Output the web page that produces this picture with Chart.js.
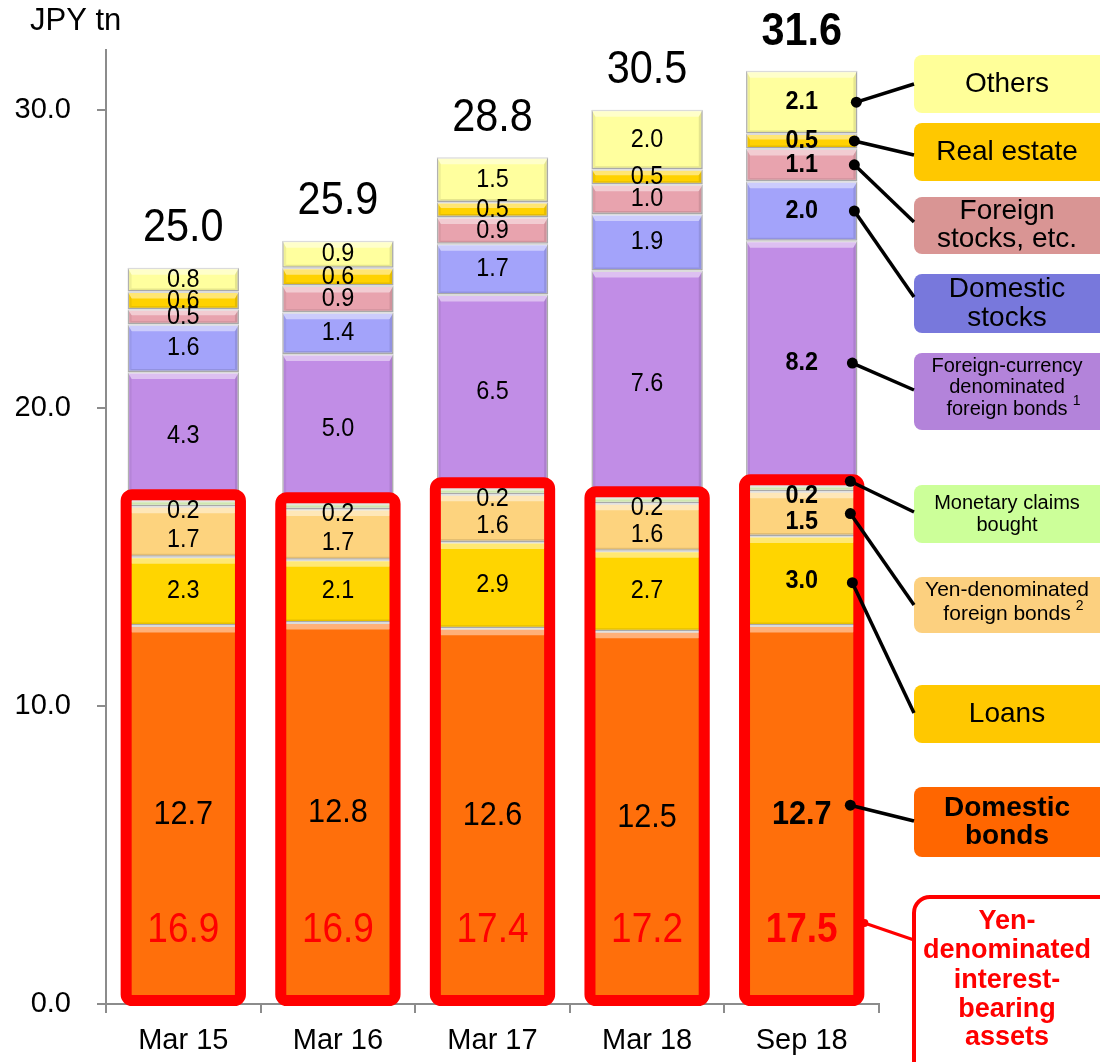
<!DOCTYPE html>
<html>
<head>
<meta charset="utf-8">
<script src="https://cdn.jsdelivr.net/npm/chart.js@4.4.1/dist/chart.umd.min.js"></script>
<style>
  html, body { margin: 0; padding: 0; background: #ffffff; }
  canvas { display: block; }
</style>
</head>
<body>
<canvas id="chart" width="1100" height="1062"></canvas>
<script>
// Asset portfolio by category, JPY trillion
const categories         = ['Mar 15', 'Mar 16', 'Mar 17', 'Mar 18', 'Sep 18'];
const domesticBonds      = [12.7, 12.8, 12.6, 12.5, 12.7];
const loans              = [2.3, 2.1, 2.9, 2.7, 3.0];
const yenForeignBonds    = [1.7, 1.7, 1.6, 1.6, 1.5];
const monetaryClaims     = [0.2, 0.2, 0.2, 0.2, 0.2];
const fxForeignBonds     = [4.3, 5.0, 6.5, 7.6, 8.2];
const domesticStocks     = [1.6, 1.4, 1.7, 1.9, 2.0];
const foreignStocks      = [0.5, 0.9, 0.9, 1.0, 1.1];
const realEstate         = [0.6, 0.6, 0.5, 0.5, 0.5];
const others             = [0.8, 0.9, 1.5, 2.0, 2.1];
const totals             = [25.0, 25.9, 28.8, 30.5, 31.6];
const yenInterestBearing = [16.9, 16.9, 17.4, 17.2, 17.5];
const yTickValues        = [0, 10, 20, 30];

const FONT = '"Liberation Sans", Arial, Helvetica, sans-serif';

// stacking order, bottom to top
const stackSeries = [
  { label: 'Domestic bonds',  data: domesticBonds,   color: '#FF6F0B', labelSize: 34, labelShift: 0 },
  { label: 'Loans',           data: loans,           color: '#FFD500', labelSize: 26, labelShift: 0 },
  { label: 'Yen-denominated foreign bonds', data: yenForeignBonds, color: '#FDD37E', labelSize: 26, labelShift: 8 },
  { label: 'Monetary claims bought', data: monetaryClaims, color: '#CFE6B0', labelSize: 26, labelShift: 8 },
  { label: 'Foreign-currency denominated foreign bonds', data: fxForeignBonds, color: '#C18DE6', labelSize: 26, labelShift: 0 },
  { label: 'Domestic stocks', data: domesticStocks,  color: '#A3A3FA', labelSize: 26, labelShift: 0 },
  { label: 'Foreign stocks, etc.', data: foreignStocks, color: '#E8A3AE', labelSize: 26, labelShift: 0 },
  { label: 'Real estate',     data: realEstate,      color: '#FFD200', labelSize: 26, labelShift: 0 },
  { label: 'Others',          data: others,          color: '#FFFF9E', labelSize: 26, labelShift: 0 }
];

// call-out boxes on the right, tied to series of the last bar
const callouts = [
  { series: 8, fill: '#FFFF99', top: 55,  bottom: 113, lines: ['Others'], ys: [84], size: 28, endY: 84, dx: -1 },
  { series: 7, fill: '#FFC800', top: 123, bottom: 181, lines: ['Real estate'], ys: [152], size: 28, endY: 155, dx: -3 },
  { series: 6, fill: '#D99594', top: 197, bottom: 254, lines: ['Foreign', 'stocks, etc.'], ys: [211, 239], size: 28, endY: 222, dx: -3 },
  { series: 5, fill: '#7878DC', top: 274, bottom: 333, lines: ['Domestic', 'stocks'], ys: [289, 318], size: 28, endY: 297, dx: -3 },
  { series: 4, fill: '#B383DA', top: 353, bottom: 430, lines: ['Foreign-currency', 'denominated', 'foreign bonds'], ys: [366, 387, 409], size: 20, endY: 390, dx: -5, sup: '1' },
  { series: 3, fill: '#CCFF99', top: 485, bottom: 543, lines: ['Monetary claims', 'bought'], ys: [503, 525], size: 20, endY: 512, dx: -7, dotShift: -7 },
  { series: 2, fill: '#FCD07F', top: 577, bottom: 633, lines: ['Yen-denominated', 'foreign bonds'], ys: [590, 614], size: 21, endY: 605, dx: -7, sup: '2' },
  { series: 1, fill: '#FFC800', top: 685, bottom: 743, lines: ['Loans'], ys: [714], size: 28, endY: 713, dx: -5, dotShift: 2 },
  { series: 0, fill: '#FF6600', top: 787, bottom: 857, lines: ['Domestic', 'bonds'], ys: [808, 836], size: 28, bold: true, endY: 821, dx: -7, dotShift: -9 }
];

function textScaled(ctx, str, x, y, font, color, sx, align) {
  ctx.save();
  ctx.font = font;
  ctx.fillStyle = color;
  ctx.textAlign = align || 'center';
  ctx.textBaseline = 'middle';
  ctx.translate(x, y);
  ctx.scale(sx, 1);
  ctx.fillText(str, 0, 0);
  ctx.restore();
}

function poly(ctx, pts, fill) {
  ctx.beginPath();
  ctx.moveTo(pts[0][0], pts[0][1]);
  for (let i = 1; i < pts.length; i++) ctx.lineTo(pts[i][0], pts[i][1]);
  ctx.closePath();
  ctx.fillStyle = fill;
  ctx.fill();
}

// bevelled look for each bar segment
const bevelPlugin = {
  id: 'bevel',
  afterDatasetsDraw(chart) {
    const ctx = chart.ctx;
    chart.data.datasets.forEach((ds, i) => {
      chart.getDatasetMeta(i).data.forEach(el => {
        const l = el.x - el.width / 2, r = el.x + el.width / 2;
        const t = Math.min(el.y, el.base), b = Math.max(el.y, el.base);
        const h = b - t;
        const d = Math.min(7, h * 0.4);
        const e = Math.min(3, h * 0.2);
        const s = 4;
        poly(ctx, [[l, t], [r, t], [r - s, t + d], [l + s, t + d]], 'rgba(255,255,255,0.45)');
        poly(ctx, [[l, b], [r, b], [r - s, b - e], [l + s, b - e]], 'rgba(0,0,0,0.10)');
        poly(ctx, [[l, t], [l + s, t + d], [l + s, b - e], [l, b]], 'rgba(0,0,0,0.06)');
        poly(ctx, [[r, t], [r - s, t + d], [r - s, b - e], [r, b]], 'rgba(0,0,0,0.10)');
      });
    });
  }
};

// red frames, value labels, totals, call-outs and unit caption
const annotatePlugin = {
  id: 'annotate',
  afterDatasetsDraw(chart) {
    const ctx = chart.ctx;
    const yScale = chart.scales.y;
    const base = yScale.getPixelForValue(0);
    const metas = chart.data.datasets.map((_, i) => chart.getDatasetMeta(i));
    const last = categories.length - 1;

    // red frames around the yen-denominated interest-bearing segments
    categories.forEach((_, j) => {
      const el = metas[0].data[j];
      const l = el.x - el.width / 2, r = el.x + el.width / 2;
      const topEl = metas[3].data[j];
      const top = Math.min(topEl.y, topEl.base);
      ctx.save();
      ctx.strokeStyle = '#FF0000';
      ctx.lineWidth = 11;
      ctx.beginPath();
      ctx.roundRect(l - 1.5, top - 5.5, (r - l) + 3, (base - 3.5) - (top - 5.5), 6);
      ctx.stroke();
      ctx.restore();
    });

    // segment values
    metas.forEach((meta, i) => {
      const cfg = stackSeries[i];
      meta.data.forEach((el, j) => {
        const v = chart.data.datasets[i].data[j];
        const mid = (el.y + el.base) / 2 + cfg.labelShift;
        const bold = j === last ? 'bold ' : '';
        textScaled(ctx, v.toFixed(1), el.x, mid, bold + cfg.labelSize + 'px ' + FONT, '#000', 0.9);
      });
    });

    // yen-denominated interest-bearing totals
    categories.forEach((_, j) => {
      const el = metas[0].data[j];
      const bold = j === last ? 'bold ' : '';
      textScaled(ctx, yenInterestBearing[j].toFixed(1), el.x, base - 74, bold + '43px ' + FONT, '#FF0000', 0.86);
    });

    // totals above each stack
    categories.forEach((_, j) => {
      const el = metas[metas.length - 1].data[j];
      const top = Math.min(el.y, el.base);
      const bold = j === last ? 'bold ' : '';
      textScaled(ctx, totals[j].toFixed(1), el.x, top - 39, bold + '46px ' + FONT, '#000', 0.9);
    });

    // call-out boxes
    const boxL = 914;
    callouts.forEach(c => {
      ctx.save();
      ctx.fillStyle = c.fill;
      ctx.beginPath();
      ctx.roundRect(boxL, c.top, 220, c.bottom - c.top, 8);
      ctx.fill();
      ctx.restore();
      const font = (c.bold ? 'bold ' : '') + c.size + 'px ' + FONT;
      c.lines.forEach((ln, k) => {
        textScaled(ctx, ln, 1007, c.ys[k], font, '#000', 1);
      });
      if (c.sup) {
        ctx.save();
        ctx.font = font;
        const w = ctx.measureText(c.lines[c.lines.length - 1]).width;
        ctx.restore();
        textScaled(ctx, c.sup, 1007 + w / 2 + 9, c.ys[c.lines.length - 1] - 8, '14px ' + FONT, '#000', 1);
      }
      // connector
      const el = metas[c.series].data[last];
      const right = el.x + el.width / 2;
      const dotX = right + c.dx;
      const dotY = (el.y + el.base) / 2 + (c.dotShift || 0);
      ctx.save();
      ctx.strokeStyle = '#000';
      ctx.lineWidth = 3.5;
      ctx.beginPath();
      ctx.moveTo(dotX, dotY);
      ctx.lineTo(boxL, c.endY);
      ctx.stroke();
      ctx.fillStyle = '#000';
      ctx.beginPath();
      ctx.arc(dotX, dotY, 5.5, 0, Math.PI * 2);
      ctx.fill();
      ctx.restore();
    });

    // red call-out for the yen-denominated interest-bearing assets
    {
      const el = metas[0].data[last];
      const right = el.x + el.width / 2 + 7;
      const dotY = base - 81;
      ctx.save();
      ctx.strokeStyle = '#FF0000';
      ctx.lineWidth = 3;
      ctx.beginPath();
      ctx.moveTo(right, dotY);
      ctx.lineTo(boxL, 940);
      ctx.stroke();
      ctx.fillStyle = '#FF0000';
      ctx.beginPath();
      ctx.arc(right, dotY, 4, 0, Math.PI * 2);
      ctx.fill();
      ctx.fillStyle = '#FFFFFF';
      ctx.lineWidth = 4;
      ctx.beginPath();
      ctx.roundRect(boxL, 897, 220, 200, 16);
      ctx.fill();
      ctx.stroke();
      ctx.restore();
      const lines = ['Yen-', 'denominated', 'interest-', 'bearing', 'assets'];
      const ys = [922, 951, 981, 1010, 1038];
      lines.forEach((ln, k) => textScaled(ctx, ln, 1007, ys[k], 'bold 27px ' + FONT, '#FF0000', 1));
    }

    // unit caption
    ctx.save();
    ctx.font = '31px ' + FONT;
    ctx.fillStyle = '#000';
    ctx.textAlign = 'left';
    ctx.textBaseline = 'alphabetic';
    ctx.fillText('JPY tn', 30, 30);
    ctx.restore();
  }
};

const axisGrey = '#8C8C8C';

new Chart(document.getElementById('chart'), {
  type: 'bar',
  data: {
    labels: categories,
    datasets: stackSeries.map(s => ({
      label: s.label,
      data: s.data,
      backgroundColor: s.color,
      borderColor: '#BDBDBD',
      borderWidth: 1.5,
      borderSkipped: false,
      categoryPercentage: 1.0,
      barPercentage: 0.72
    }))
  },
  options: {
    responsive: false,
    animation: false,
    devicePixelRatio: 1,
    layout: { padding: { top: 50, right: 221, left: 0, bottom: 0 } },
    plugins: {
      legend: { display: false },
      tooltip: { enabled: false }
    },
    scales: {
      x: {
        stacked: true,
        grid: { drawOnChartArea: false, drawTicks: true, tickLength: 9, color: axisGrey, lineWidth: 2 },
        border: { display: true, color: axisGrey, width: 2 },
        ticks: { font: { family: FONT, size: 29 }, color: '#000', padding: 11 },
        afterFit(scale) { scale.height = 58; }
      },
      y: {
        stacked: true,
        min: 0,
        max: 32,
        afterBuildTicks(scale) { scale.ticks = yTickValues.map(v => ({ value: v })); },
        grid: { drawOnChartArea: false, drawTicks: true, tickLength: 9, color: axisGrey, lineWidth: 2 },
        border: { display: true, color: axisGrey, width: 2 },
        ticks: {
          font: { family: FONT, size: 29 },
          color: '#000',
          padding: 26,
          callback: v => Number(v).toFixed(1)
        },
        afterFit(scale) { scale.width = 106; }
      }
    }
  },
  plugins: [bevelPlugin, annotatePlugin]
});
</script>
</body>
</html>
